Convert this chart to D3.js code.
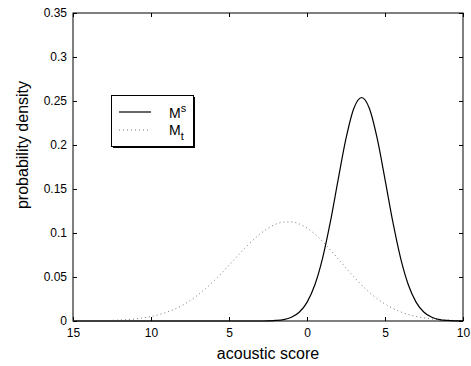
<!DOCTYPE html>
<html>
<head>
<meta charset="utf-8">
<script src="https://cdn.jsdelivr.net/npm/d3@7"></script>
<style>
  body { margin: 0; background: #fff; }
  text { font-family: "Liberation Sans", Arial, sans-serif; fill: #000; }
</style>
</head>
<body>
<div id="chart"></div>
<script>
// acoustic score sample points (step 0.5)
const scores = [-15, -14.5, -14, -13.5, -13, -12.5, -12, -11.5, -11, -10.5, -10, -9.5, -9, -8.5, -8, -7.5, -7, -6.5, -6, -5.5, -5, -4.5, -4, -3.5, -3, -2.5, -2, -1.5, -1, -0.5,
  0, 0.5, 1, 1.5, 2, 2.5, 3, 3.5, 4, 4.5, 5, 5.5, 6, 6.5, 7, 7.5, 8, 8.5, 9, 9.5, 10];
// M^s (solid)
const densityMs = [0, 0, 0, 0, 0, 0, 0, 0, 0, 0, 0, 0, 0, 0, 0, 0, 0, 0, 0, 0, 0, 0, 0, 0, 0, 0.0002, 0.0006, 0.0016, 0.0042, 0.0099,
  0.0212, 0.0409, 0.0715, 0.1128, 0.161, 0.2074, 0.2415, 0.254, 0.2415, 0.2074, 0.161, 0.1128, 0.0715, 0.0409, 0.0212, 0.0099, 0.0042, 0.0016, 0.0006, 0.0002, 0.0001];
// M_t (dotted)
const densityMt = [0.0001, 0.0001, 0.0002, 0.0003, 0.0004, 0.0007, 0.0011, 0.0016, 0.0024, 0.0036, 0.0051, 0.0072, 0.0099, 0.0134, 0.0178, 0.0231, 0.0295, 0.0368, 0.045, 0.0539,
  0.0634, 0.073, 0.0825, 0.0913, 0.0991, 0.1054, 0.11, 0.1124, 0.1126, 0.1103, 0.1056, 0.0988, 0.0903, 0.0807, 0.0705, 0.0602, 0.0502, 0.0409, 0.0326, 0.0254,
  0.0193, 0.0144, 0.0104, 0.0074, 0.0051, 0.0035, 0.0023, 0.0015, 0.0009, 0.0006, 0.0004];

const xTicks = [-15, -10, -5, 0, 5, 10];
const xTickLabels = ['15', '10', '5', '0', '5', '10'];
const yTicks = [0, 0.05, 0.1, 0.15, 0.2, 0.25, 0.3, 0.35];
const yTickLabels = ['0', '0.05', '0.1', '0.15', '0.2', '0.25', '0.3', '0.35'];

const width = 471, height = 366;
const margin = { left: 73, right: 8, top: 13, bottom: 45 };

const svg = d3.select('#chart').append('svg')
  .attr('width', width)
  .attr('height', height);

const x = d3.scaleLinear().domain([-15, 10]).range([margin.left, width - margin.right]);
const y = d3.scaleLinear().domain([0, 0.35]).range([height - margin.bottom, margin.top]);

const tickLen = 4;

// bottom / top axes
svg.append('g')
  .attr('transform', `translate(0,${y(0)})`)
  .call(d3.axisBottom(x).tickValues(xTicks).tickSizeInner(-tickLen).tickSizeOuter(0)
    .tickPadding(7).tickFormat((d, i) => xTickLabels[i]))
  .call(g => g.select('.domain').remove())
  .selectAll('text').style('font-size', '12px');
svg.append('g')
  .attr('transform', `translate(0,${y(0.35)})`)
  .call(d3.axisTop(x).tickValues(xTicks).tickSizeInner(-tickLen).tickSizeOuter(0).tickFormat(''))
  .call(g => g.select('.domain').remove());

// left / right axes
svg.append('g')
  .attr('transform', `translate(${x(-15)},0)`)
  .call(d3.axisLeft(y).tickValues(yTicks).tickSizeInner(-tickLen).tickSizeOuter(0)
    .tickPadding(6).tickFormat((d, i) => yTickLabels[i]))
  .call(g => g.select('.domain').remove())
  .selectAll('text').style('font-size', '12px');
svg.append('g')
  .attr('transform', `translate(${x(10)},0)`)
  .call(d3.axisRight(y).tickValues(yTicks).tickSizeInner(-tickLen).tickSizeOuter(0).tickFormat(''))
  .call(g => g.select('.domain').remove());

// frame
svg.append('rect')
  .attr('x', x(-15)).attr('y', y(0.35))
  .attr('width', x(10) - x(-15)).attr('height', y(0) - y(0.35))
  .attr('fill', 'none').attr('stroke', '#000').attr('stroke-width', 1);

const line = d3.line()
  .x(d => x(d[0]))
  .y(d => y(d[1]))
  .curve(d3.curveMonotoneX);

svg.append('path')
  .datum(scores.map((s, i) => [s, densityMt[i]]))
  .attr('fill', 'none')
  .attr('stroke', '#777')
  .attr('stroke-width', 1)
  .attr('stroke-dasharray', '1,3')
  .attr('d', line);

svg.append('path')
  .datum(scores.map((s, i) => [s, densityMs[i]]))
  .attr('fill', 'none')
  .attr('stroke', '#000')
  .attr('stroke-width', 1.2)
  .attr('d', line);

// axis titles
svg.append('text')
  .attr('x', (x(-15) + x(10)) / 2)
  .attr('y', 359)
  .attr('text-anchor', 'middle')
  .style('font-size', '16px')
  .text('acoustic score');

svg.append('text')
  .attr('transform', 'translate(28,145) rotate(-90)')
  .attr('text-anchor', 'middle')
  .style('font-size', '16px')
  .text('probability density');

// legend
const lg = svg.append('g');
lg.append('rect')
  .attr('x', 113).attr('y', 97).attr('width', 82).attr('height', 51)
  .attr('fill', '#000');
lg.append('rect')
  .attr('x', 111.5).attr('y', 95.5).attr('width', 82).attr('height', 51)
  .attr('fill', '#fff').attr('stroke', '#000').attr('stroke-width', 1);
lg.append('line')
  .attr('x1', 119).attr('x2', 151).attr('y1', 112).attr('y2', 112)
  .attr('stroke', '#000').attr('stroke-width', 1.2);
lg.append('line')
  .attr('x1', 119).attr('x2', 151).attr('y1', 130).attr('y2', 130)
  .attr('stroke', '#777').attr('stroke-width', 1).attr('stroke-dasharray', '1,3');

const t1 = lg.append('text').attr('x', 169).attr('y', 118).style('font-size', '14px');
t1.append('tspan').text('M');
t1.append('tspan').attr('dy', -6).style('font-size', '11px').text('s');
const t2 = lg.append('text').attr('x', 169).attr('y', 135).style('font-size', '14px');
t2.append('tspan').text('M');
t2.append('tspan').attr('dy', 5).style('font-size', '11px').text('t');
</script>
</body>
</html>
